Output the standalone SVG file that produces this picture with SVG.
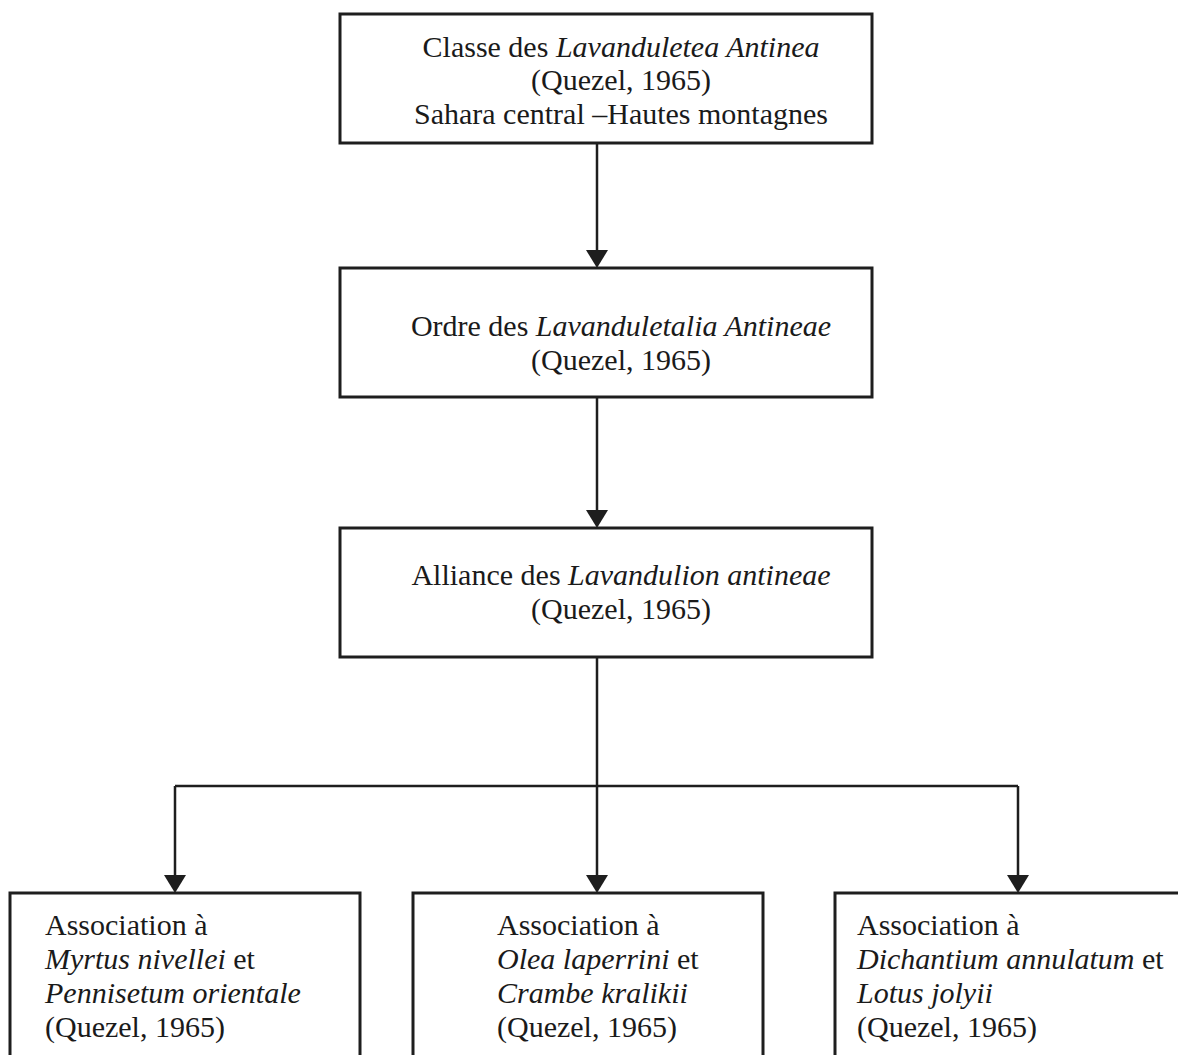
<svg xmlns="http://www.w3.org/2000/svg" width="1178" height="1055" viewBox="0 0 1178 1055">
<defs>
<style>
.box{fill:#fff;stroke:#1e1e1e;stroke-width:3}
.t{font-family:"Liberation Serif","Times New Roman",serif;font-size:30px;fill:#1a1a1a}
.c{text-anchor:middle}
.i{font-style:italic}
.ln{fill:none;stroke:#1e1e1e;stroke-width:2.5}
</style>
<marker id="ah" viewBox="0 0 22 18" refX="11" refY="18" markerWidth="22" markerHeight="18" markerUnits="userSpaceOnUse" orient="auto-start-reverse">
<path d="M0,0 L22,0 L11,18 Z" fill="#1e1e1e"/>
</marker>
</defs>
<rect width="1178" height="1055" fill="#fff"/>
<g id="connectors">
<path class="ln" d="M597,143 V250"/>
<path d="M586,250 H608 L597,268 Z" fill="#1e1e1e"/>
<path class="ln" d="M597,397 V510"/>
<path d="M586,510 H608 L597,528 Z" fill="#1e1e1e"/>
<path class="ln" d="M597,657 V875 M175,786 H1018 M175,786 V875 M1018,786 V875"/>
<path d="M164,875 H186 L175,893 Z" fill="#1e1e1e"/>
<path d="M586,875 H608 L597,893 Z" fill="#1e1e1e"/>
<path d="M1007,875 H1029 L1018,893 Z" fill="#1e1e1e"/>
</g>
<g id="classe">
<rect class="box" x="340" y="14" width="532" height="129"/>
<text class="t c" x="621" y="57">Classe des <tspan class="i">Lavanduletea Antinea</tspan></text>
<text class="t c" x="621" y="90">(Quezel, 1965)</text>
<text class="t c" x="621" y="124">Sahara central –Hautes montagnes</text>
</g>
<g id="ordre">
<rect class="box" x="340" y="268" width="532" height="129"/>
<text class="t c" x="621" y="336">Ordre des <tspan class="i">Lavanduletalia Antineae</tspan></text>
<text class="t c" x="621" y="370">(Quezel, 1965)</text>
</g>
<g id="alliance">
<rect class="box" x="340" y="528" width="532" height="129"/>
<text class="t c" x="621" y="585">Alliance des <tspan class="i">Lavandulion antineae</tspan></text>
<text class="t c" x="621" y="619">(Quezel, 1965)</text>
</g>
<g id="assoc1">
<rect class="box" x="10" y="893" width="350" height="200"/>
<text class="t" x="45" y="935">Association à</text>
<text class="t" x="45" y="969"><tspan class="i">Myrtus nivellei</tspan> et</text>
<text class="t" x="45" y="1003"><tspan class="i">Pennisetum orientale</tspan></text>
<text class="t" x="45" y="1037">(Quezel, 1965)</text>
</g>
<g id="assoc2">
<rect class="box" x="413" y="893" width="350" height="200"/>
<text class="t" x="497" y="935">Association à</text>
<text class="t" x="497" y="969"><tspan class="i">Olea laperrini</tspan> et</text>
<text class="t" x="497" y="1003"><tspan class="i">Crambe kralikii</tspan></text>
<text class="t" x="497" y="1037">(Quezel, 1965)</text>
</g>
<g id="assoc3">
<rect class="box" x="835" y="893" width="400" height="200"/>
<text class="t" x="857" y="935">Association à</text>
<text class="t" x="857" y="969"><tspan class="i">Dichantium annulatum</tspan> et</text>
<text class="t" x="857" y="1003"><tspan class="i">Lotus jolyii</tspan></text>
<text class="t" x="857" y="1037">(Quezel, 1965)</text>
</g>
</svg>
